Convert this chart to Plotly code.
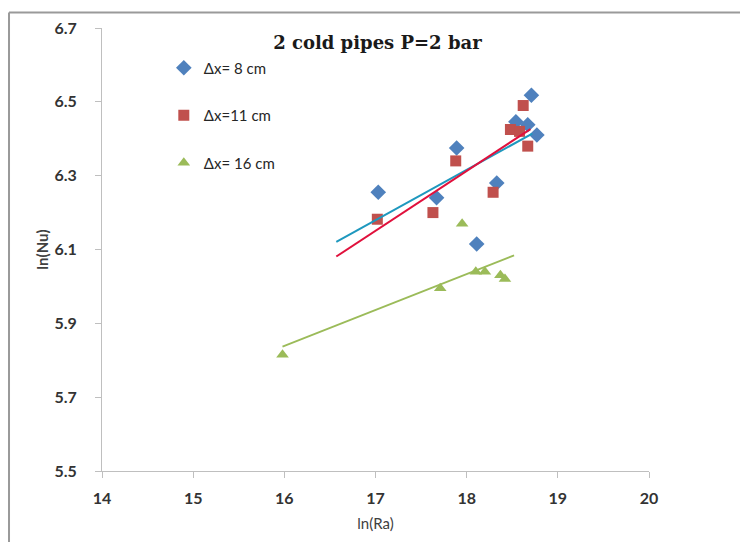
import numpy as np
import plotly.graph_objects as go

# ---- data ----
names = ["Δx= 8 cm", "Δx=11 cm", "Δx= 16 cm"]
ra_8 = [17.03, 17.67, 17.89, 18.11, 18.33, 18.54, 18.67, 18.71, 18.77]
nu_8 = [6.255, 6.24, 6.375, 6.115, 6.28, 6.446, 6.438, 6.518, 6.41]
ra_11 = [17.02, 17.63, 17.88, 18.29, 18.48, 18.58, 18.62, 18.67]
nu_11 = [6.182, 6.20, 6.34, 6.255, 6.425, 6.42, 6.49, 6.38]
ra_16 = [15.98, 17.71, 17.95, 18.10, 18.20, 18.37, 18.42]
nu_16 = [5.815, 5.995, 6.17, 6.04, 6.04, 6.03, 6.02]
# trendline x extents
trend_x_8 = [16.57, 18.72]
trend_x_11 = [16.57, 18.70]
trend_x_16 = [15.98, 18.52]

x_ticks = [14, 15, 16, 17, 18, 19, 20]
y_ticks = [5.5, 5.7, 5.9, 6.1, 6.3, 6.5, 6.7]

colors = ["#4F81BD", "#C0504D", "#9BBB59"]
trend_colors = ["#1E98BE", "#E0103C", "#9BBB59"]
symbols = ["diamond", "square", "triangle-up"]
sizes = [12, 11, 11]

fig = go.Figure()
series = [(ra_8, nu_8, trend_x_8), (ra_11, nu_11, trend_x_11), (ra_16, nu_16, trend_x_16)]
for i, (xs, ys, tx) in enumerate(series):
    fig.add_trace(go.Scatter(
        x=xs, y=ys, mode="markers", name=names[i], legendgroup=f"g{i}",
        marker=dict(symbol=symbols[i], color=colors[i], size=sizes[i], line=dict(width=0)),
    ))
for i, (xs, ys, tx) in enumerate(series):
    m, b = np.polyfit(xs, ys, 1)
    tx = np.array(tx)
    fig.add_trace(go.Scatter(
        x=tx, y=m * tx + b, mode="lines", showlegend=False, legendgroup=f"g{i}",
        line=dict(color=trend_colors[i], width=2 if i < 2 else 1.8),
        hoverinfo="skip",
    ))

tick_font = dict(family="Lato, 'Open Sans', sans-serif", size=16, color="#333333")
fig.update_layout(
    width=740, height=542,
    margin=dict(l=102, r=91, t=28, b=69),
    paper_bgcolor="white", plot_bgcolor="white",
    title=dict(text="<b>2 cold pipes P=2 bar</b>", x=0.51, xanchor="center", y=0.921, yanchor="middle",
               font=dict(family="'DejaVu Serif', 'Liberation Serif', serif", size=18, color="#1a1a1a")),
    xaxis=dict(range=[14, 20], tickvals=x_ticks, ticktext=[f"<b>{v}</b>" for v in x_ticks],
               showgrid=False, zeroline=False, showline=True, linecolor="#BFBFBF", linewidth=1,
               ticks="outside", ticklen=6, tickcolor="#BFBFBF", tickfont=tick_font,
               ticklabelstandoff=7,
               title=dict(text="ln(Ra)", font=dict(family="Lato, sans-serif", size=15, color="#404040"), standoff=12)),
    yaxis=dict(range=[5.5, 6.7], tickvals=y_ticks, ticktext=[f"<b>{v:.1f}</b>" for v in y_ticks],
               showgrid=False, zeroline=False, showline=True, linecolor="#BFBFBF", linewidth=1,
               ticks="outside", ticklen=6, tickcolor="#BFBFBF", tickfont=tick_font,
               ticklabelstandoff=15,
               title=dict(text="<b>ln(Nu)</b>", font=dict(family="Lato, sans-serif", size=15, color="#404040"), standoff=2)),
    legend=dict(x=0.113, y=0.947, xanchor="left", yanchor="top", bgcolor="rgba(0,0,0,0)",
                font=dict(family="Lato, 'Open Sans', sans-serif", size=15, color="#262626"),
                tracegroupgap=25, itemwidth=30),
    showlegend=True,
    shapes=[
        dict(type="line", xref="paper", yref="paper", x0=-0.17, x1=1.2, y0=1.035, y1=1.035,
             line=dict(color="#9a9a9a", width=2)),
        dict(type="line", xref="paper", yref="paper", x0=-0.17, x1=-0.17, y0=1.035, y1=-0.2,
             line=dict(color="#9a9a9a", width=2)),
    ],
)

fig.write_html("out.html")
